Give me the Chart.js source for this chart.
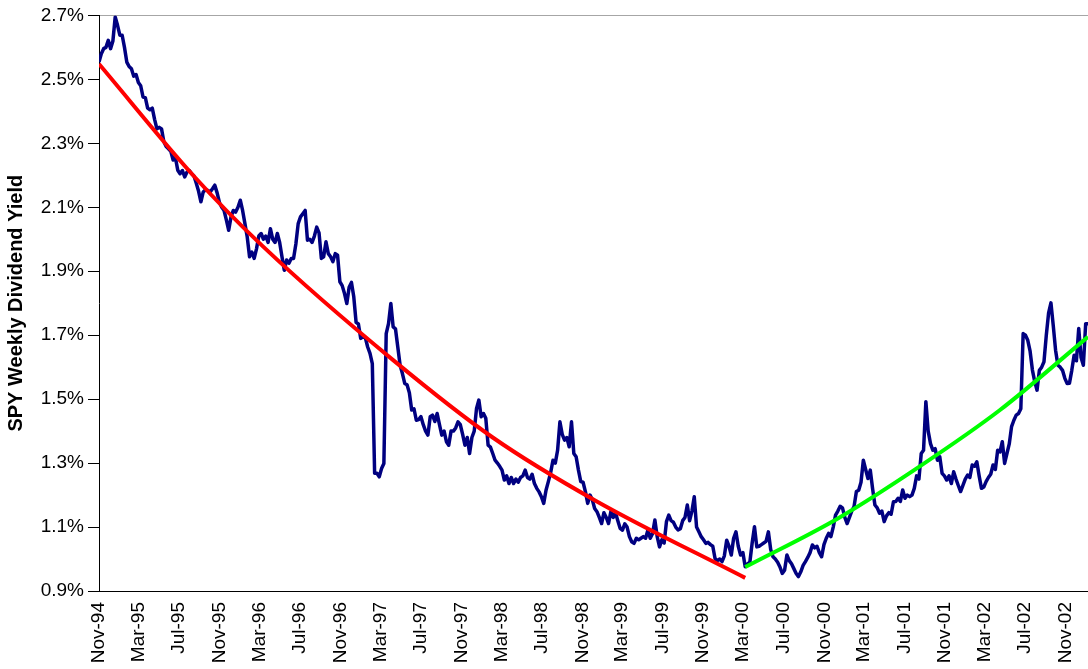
<!DOCTYPE html>
<html>
<head>
<meta charset="utf-8">
<title>SPY Weekly Dividend Yield</title>
<script src="https://cdn.jsdelivr.net/npm/chart.js@4.4.1/dist/chart.umd.min.js"></script>
<style>
  html, body { margin: 0; padding: 0; background: #ffffff; }
  #wrap { width: 1088px; height: 669px; position: relative; }
</style>
</head>
<body>
<div id="wrap"><canvas id="chart"></canvas></div>
<script>
// Weekly SPY dividend yield (%), first reading in early November 1994
const seriesStart = Date.UTC(1994, 10, 1);
const lastDay = 2989; // days after seriesStart shown at the right edge

const tickLabels = [
  'Nov-94', 'Mar-95', 'Jul-95', 'Nov-95', 'Mar-96', 'Jul-96', 'Nov-96',
  'Mar-97', 'Jul-97', 'Nov-97', 'Mar-98', 'Jul-98', 'Nov-98', 'Mar-99',
  'Jul-99', 'Nov-99', 'Mar-00', 'Jul-00', 'Nov-00', 'Mar-01', 'Jul-01',
  'Nov-01', 'Mar-02', 'Jul-02', 'Nov-02'
];

const yTicks = [0.9, 1.1, 1.3, 1.5, 1.7, 1.9, 2.1, 2.3, 2.5, 2.7];

const spyYield = [
  2.554, 2.58, 2.596, 2.60, 2.622, 2.596, 2.62, 2.695, 2.669, 2.638,
  2.638, 2.60, 2.554, 2.54, 2.533, 2.51, 2.515, 2.49, 2.48, 2.445,
  2.443, 2.41, 2.405, 2.41, 2.375, 2.345, 2.35, 2.345, 2.305, 2.29,
  2.283, 2.275, 2.248, 2.255, 2.216, 2.205, 2.215, 2.195, 2.21, 2.215,
  2.205, 2.198, 2.175, 2.15, 2.117, 2.148, 2.155, 2.153, 2.148, 2.158,
  2.169, 2.145, 2.115, 2.10, 2.09, 2.06, 2.028, 2.07, 2.09, 2.085,
  2.10, 2.122, 2.09, 2.049, 2.007, 1.945, 1.96, 1.94, 1.97, 2.01,
  2.018, 2.00, 2.01, 1.99, 2.033, 2.00, 1.99, 2.018, 1.99, 1.945,
  1.903, 1.935, 1.925, 1.94, 1.94, 1.985, 2.049, 2.07, 2.08, 2.09,
  1.997, 2.0, 1.99, 2.01, 2.038, 2.02, 1.94, 1.945, 1.992, 1.955,
  1.945, 1.93, 1.955, 1.95, 1.867, 1.855, 1.83, 1.799, 1.85, 1.865,
  1.82, 1.74, 1.735, 1.69, 1.695, 1.692, 1.663, 1.643, 1.611, 1.268,
  1.268, 1.257, 1.283, 1.299, 1.705, 1.736, 1.799, 1.726, 1.72, 1.663,
  1.606, 1.58, 1.549, 1.545, 1.52, 1.466, 1.47, 1.434, 1.436, 1.445,
  1.42, 1.40, 1.3875, 1.445, 1.45, 1.43, 1.455, 1.42, 1.3875, 1.40,
  1.367, 1.356, 1.40, 1.40, 1.41, 1.429, 1.42, 1.39, 1.356, 1.38,
  1.33, 1.38, 1.40, 1.471, 1.497, 1.445, 1.455, 1.44, 1.356, 1.35,
  1.33, 1.309, 1.30, 1.29, 1.278, 1.247, 1.26, 1.236, 1.255, 1.236,
  1.25, 1.24, 1.255, 1.26, 1.278, 1.255, 1.25, 1.265, 1.236, 1.221,
  1.21, 1.195, 1.174, 1.215, 1.242, 1.27, 1.309, 1.30, 1.34, 1.429,
  1.39, 1.372, 1.38, 1.351, 1.429, 1.33, 1.32, 1.278, 1.242, 1.24,
  1.211, 1.174, 1.20, 1.185, 1.158, 1.148, 1.13, 1.111, 1.145, 1.13,
  1.111, 1.148, 1.13, 1.145, 1.12, 1.096, 1.09, 1.11, 1.10, 1.07,
  1.054, 1.049, 1.065, 1.06, 1.065, 1.07, 1.065, 1.091, 1.065, 1.08,
  1.122, 1.07, 1.038, 1.06, 1.05, 1.117, 1.1375, 1.12, 1.115, 1.10,
  1.091, 1.095, 1.12, 1.13, 1.169, 1.12, 1.15, 1.195, 1.10, 1.085,
  1.07, 1.06, 1.049, 1.052, 1.045, 1.04, 1.001, 0.995, 1.00, 0.992,
  1.01, 1.059, 1.04, 1.0125, 1.065, 1.085, 1.04, 1.0125, 1.02, 0.976,
  0.985, 0.99, 1.05, 1.101, 1.038, 1.04, 1.045, 1.05, 1.055, 1.085,
  1.03, 1.007, 1.00, 0.99, 0.975, 0.955, 0.965, 1.0125, 0.995, 0.985,
  0.97, 0.955, 0.945, 0.96, 0.98, 0.992, 1.005, 1.02, 1.044, 1.035,
  1.04, 1.02, 1.007, 1.045, 1.065, 1.08, 1.07, 1.10, 1.1375, 1.15,
  1.165, 1.16, 1.13, 1.111, 1.13, 1.15, 1.164, 1.211, 1.215, 1.24,
  1.309, 1.28, 1.252, 1.278, 1.22, 1.169, 1.16, 1.143, 1.15, 1.117,
  1.135, 1.145, 1.14, 1.179, 1.18, 1.19, 1.18, 1.216, 1.19, 1.20,
  1.195, 1.20, 1.221, 1.26, 1.25, 1.33, 1.34, 1.492, 1.40, 1.361,
  1.34, 1.345, 1.309, 1.32, 1.268, 1.26, 1.247, 1.26, 1.236, 1.273,
  1.25, 1.23, 1.211, 1.23, 1.25, 1.2625, 1.255, 1.294, 1.29, 1.304,
  1.26, 1.221, 1.225, 1.242, 1.255, 1.265, 1.294, 1.28, 1.34, 1.335,
  1.367, 1.299, 1.33, 1.36, 1.414, 1.434, 1.45, 1.455, 1.47, 1.705,
  1.70, 1.684, 1.65, 1.591, 1.555, 1.528, 1.59, 1.60, 1.617, 1.70,
  1.77, 1.801, 1.73, 1.653, 1.606, 1.60, 1.59, 1.565, 1.549, 1.55,
  1.59, 1.6375, 1.62, 1.721, 1.63, 1.606, 1.736, 1.736
];

// Falling-yield trend (Nov-94 to Mar-00), week number and yield
const redTrendWeeks = [0, 41, 71, 127, 170, 214, 279];
const redTrendValues = [2.548, 2.197, 1.976, 1.622, 1.380, 1.184, 0.941];

// Rising-yield trend (Mar-00 onward), week number and yield
const greenTrendWeeks = [279, 319, 355, 389, 427];
const greenTrendValues = [0.975, 1.127, 1.293, 1.466, 1.695];

const MONTHS = ['Jan','Feb','Mar','Apr','May','Jun','Jul','Aug','Sep','Oct','Nov','Dec'];
const DAY_MS = 86400000;

function labelToDay(label) {
  const [mon, yy] = label.split('-');
  const yr = Number(yy) < 50 ? 2000 + Number(yy) : 1900 + Number(yy);
  return Math.round((Date.UTC(yr, MONTHS.indexOf(mon), 1) - seriesStart) / DAY_MS);
}

const tickDays = tickLabels.map(labelToDay);

const yieldPoints = spyYield.map((v, i) => ({ x: i * 7, y: v }));
const redPoints = redTrendWeeks.map((w, i) => ({ x: w * 7, y: redTrendValues[i] }));
const greenPoints = greenTrendWeeks.map((w, i) => ({ x: w * 7, y: greenTrendValues[i] }));

const FONT = '"Liberation Sans", Arial, Helvetica, sans-serif';
Chart.defaults.font.family = FONT;
Chart.defaults.color = '#000000';

new Chart(document.getElementById('chart'), {
  type: 'line',
  data: {
    datasets: [
      {
        data: redPoints,
        borderColor: '#ff0000',
        borderWidth: 4,
        pointRadius: 0,
        cubicInterpolationMode: 'monotone',
        fill: false
      },
      {
        data: greenPoints,
        borderColor: '#00ff00',
        borderWidth: 4,
        pointRadius: 0,
        cubicInterpolationMode: 'monotone',
        fill: false
      },
      {
        data: yieldPoints,
        borderColor: '#000080',
        borderWidth: 3.5,
        pointRadius: 0,
        tension: 0,
        borderJoinStyle: 'round',
        fill: false
      }
    ]
  },
  options: {
    responsive: true,
    maintainAspectRatio: false,
    animation: false,
    devicePixelRatio: 1,
    layout: { padding: { top: 15, right: 0, bottom: 0, left: 0 } },
    plugins: {
      legend: { display: false },
      tooltip: { enabled: false }
    },
    scales: {
      x: {
        type: 'linear',
        min: 0,
        max: lastDay,
        grid: { display: false, drawTicks: true, tickLength: 8 },
        border: { display: true, color: '#000000', width: 1 },
        afterBuildTicks: (scale) => {
          scale.ticks = tickDays.map(v => ({ value: v }));
        },
        afterFit: (scale) => {
          scale.height = 78;
          scale.paddingLeft = 0;
          scale.paddingRight = 0;
        },
        ticks: {
          autoSkip: false,
          maxRotation: 90,
          minRotation: 90,
          padding: 3,
          font: { size: 19 },
          color: '#000000',
          callback: (value, index) => tickLabels[index]
        }
      },
      y: {
        type: 'linear',
        min: 0.9,
        max: 2.7,
        afterBuildTicks: (scale) => {
          scale.ticks = yTicks.map(v => ({ value: v }));
        },
        afterFit: (scale) => {
          scale.width = 99;
        },
        grid: {
          drawTicks: true,
          tickLength: 11,
          tickColor: '#000000',
          lineWidth: 1,
          color: (ctx) => (ctx.tick && Math.abs(ctx.tick.value - 2.7) < 1e-6) ? '#a6a6a6' : 'rgba(0,0,0,0)'
        },
        border: { display: true, color: '#000000', width: 1 },
        ticks: {
          padding: 4,
          font: { size: 19 },
          color: '#000000',
          callback: (value) => value.toFixed(1) + '%'
        },
        title: {
          display: true,
          text: 'SPY Weekly Dividend Yield',
          color: '#000000',
          font: { size: 20, weight: 'bold' },
          padding: { top: 4, bottom: 4 }
        }
      }
    }
  }
});
</script>
</body>
</html>
